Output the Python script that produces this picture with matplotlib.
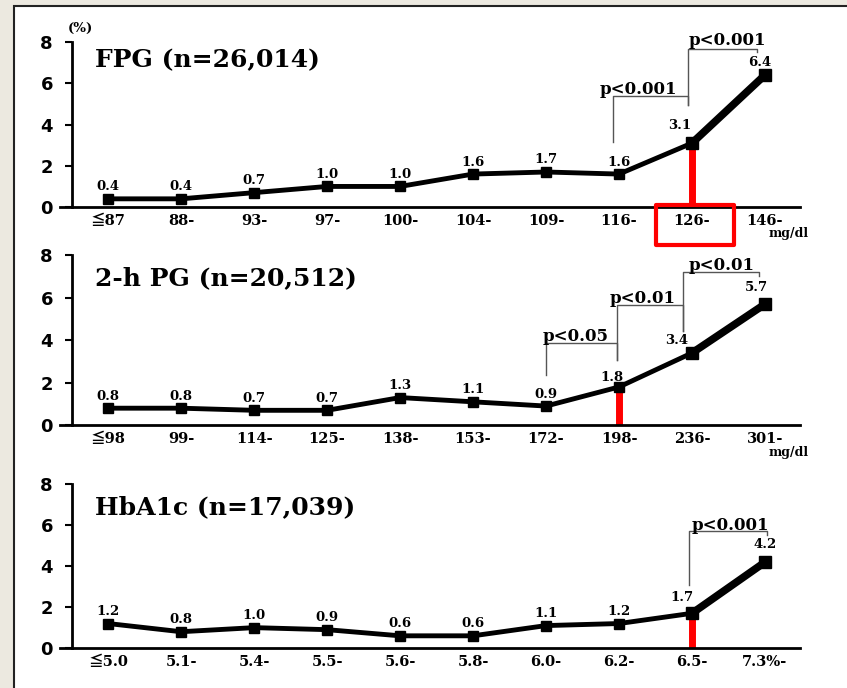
import matplotlib.pyplot as plt
from matplotlib.patches import Rectangle

fpg_cats = ['\u226687', '88-', '93-', '97-', '100-', '104-', '109-', '116-', '126-', '146-']
fpg_vals = [0.4, 0.4, 0.7, 1.0, 1.0, 1.6, 1.7, 1.6, 3.1, 6.4]

pg_cats = ['\u226698', '99-', '114-', '125-', '138-', '153-', '172-', '198-', '236-', '301-']
pg_vals = [0.8, 0.8, 0.7, 0.7, 1.3, 1.1, 0.9, 1.8, 3.4, 5.7]

hba_cats = ['\u22665.0', '5.1-', '5.4-', '5.5-', '5.6-', '5.8-', '6.0-', '6.2-', '6.5-', '7.3%-']
hba_vals = [1.2, 0.8, 1.0, 0.9, 0.6, 0.6, 1.1, 1.2, 1.7, 4.2]

SERIF = 'DejaVu Serif'
TICKFONT = ['DejaVu Serif', 'Noto Sans CJK JP']
RED = '#ff0000'
BR = '#555555'


def draw_panel(ax, cats, vals, title, cut, shifts, brackets, unit=True):
    x = list(range(len(vals)))
    ax.set_facecolor('none')
    ax.set_xlim(-0.66, 9.48)
    ax.set_ylim(0, 8)
    for s in ['top', 'right']:
        ax.spines[s].set_visible(False)
    ax.spines['left'].set_position(('data', -0.49))
    ax.spines['left'].set_linewidth(2)
    ax.spines['bottom'].set_linewidth(2)
    ax.set_yticks([0, 2, 4, 6, 8])
    ax.set_yticklabels(['0', '2', '4', '6', '8'], fontsize=13,
                       fontweight='bold', family='DejaVu Sans')
    ax.tick_params(axis='y', length=5, width=1.5, pad=9)
    ax.set_xticks(x)
    ax.set_xticklabels(cats, fontsize=10.5, fontweight='bold', family=TICKFONT)
    ax.tick_params(axis='x', length=0, pad=5)

    # red cut-off line
    ax.vlines(cut, 0, vals[cut], color=RED, lw=5, zorder=2)
    ax.plot(x, vals, color='black', lw=3.5, marker='s', ms=7,
            solid_joinstyle='round', zorder=3)
    ax.plot(x[-2:], vals[-2:], color='black', lw=5.5, marker='s', ms=8,
            solid_joinstyle='round', zorder=3)

    for i, v in enumerate(vals):
        dx, dy = shifts.get(i, (0, 4))
        ax.annotate('%.1f' % v, (i, v), xytext=(dx, dy), textcoords='offset points',
                    ha='center', va='bottom', fontsize=9.5, fontweight='bold',
                    family=SERIF, zorder=4)

    ax.text(-0.18, title[1], title[0], fontsize=18, fontweight='bold',
            family=SERIF, va='center', ha='left')

    for xl, xr, ybar, yl, yr, lab, lx, ly in brackets:
        ax.plot([xl, xl, xr, xr], [yl, ybar, ybar, yr], color=BR, lw=1,
                clip_on=False, zorder=1)
        ax.text(lx, ly, lab, ha='center', va='center', fontsize=12,
                fontweight='bold', family=SERIF, clip_on=False)

    if unit:
        ax.text(9.32, -1.3, 'mg/dl', ha='center', va='center', fontsize=9,
                fontweight='bold', family=SERIF, clip_on=False)


fig = plt.figure(figsize=(8.47, 6.88), dpi=100, facecolor='#ece9e0')
panel = Rectangle((14 / 847, -0.01), 1.0, 1 - 6 / 688 + 0.01,
                  transform=fig.transFigure, facecolor='white',
                  edgecolor='#222222', lw=1.5, zorder=-5)
fig.add_artist(panel)

left, width = 60 / 847, 740 / 847
ax1 = fig.add_axes([left, 0.699, width, 0.240])
ax2 = fig.add_axes([left, 0.382, width, 0.247])
ax3 = fig.add_axes([left, 0.058, width, 0.238])

draw_panel(ax1, fpg_cats, fpg_vals, ('FPG (n=26,014)', 7.14), 8,
           {8: (-9, 8), 9: (-4, 4)},
           [(6.92, 7.95, 5.39, 3.16, 4.95, 'p<0.001', 7.26, 5.68),
            (7.95, 8.89, 7.65, 4.95, 7.5, 'p<0.001', 8.49, 8.06)])
ax1.text(-0.38, 8.65, '(%)', fontsize=9.5, fontweight='bold', family=SERIF,
         ha='center', va='center', clip_on=False)
ax1.add_patch(Rectangle((7.51, -1.84), 1.07, 1.94, fill=False, edgecolor=RED,
                        lw=3, clip_on=False, joinstyle='round', zorder=5))

draw_panel(ax2, pg_cats, pg_vals, ('2-h PG (n=20,512)', 6.92), 7,
           {7: (-5, 2), 8: (-11, 4), 9: (-6, 7)},
           [(6.0, 6.97, 3.86, 2.35, 3.06, 'p<0.05', 6.41, 4.19),
            (6.97, 7.88, 5.65, 3.06, 4.42, 'p<0.01', 7.32, 5.98),
            (7.88, 8.92, 7.2, 4.42, 7.01, 'p<0.01', 8.41, 7.53)])

draw_panel(ax3, hba_cats, hba_vals, ('HbA1c (n=17,039)', 6.88), 8,
           {8: (-7, 7), 9: (0, 8)},
           [(7.96, 9.03, 5.71, 3.07, 5.51, 'p<0.001', 8.52, 6.0)], unit=False)

fig.savefig('out.png', dpi=100, facecolor=fig.get_facecolor())
